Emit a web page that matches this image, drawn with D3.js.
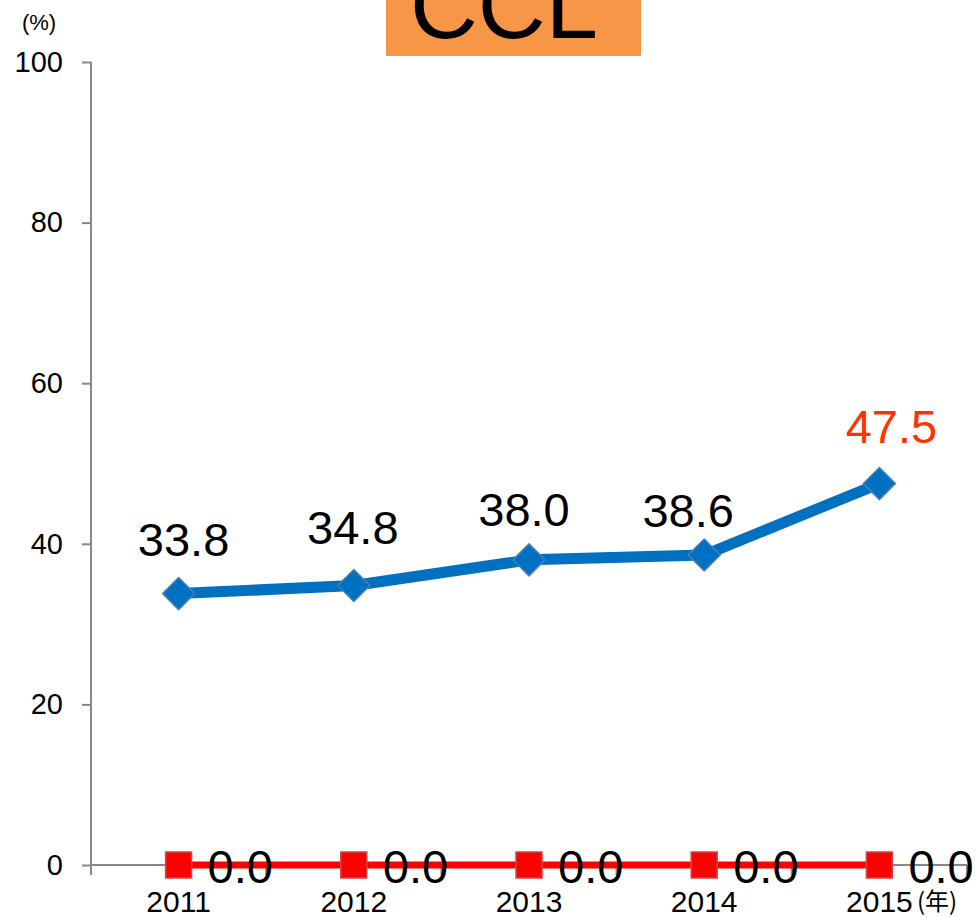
<!DOCTYPE html>
<html>
<head>
<meta charset="utf-8">
<script src="https://cdn.jsdelivr.net/npm/d3@7"></script>
<style>
  body { margin: 0; background: #fff; }
  text { font-family: "Liberation Sans", Arial, sans-serif; }
</style>
</head>
<body>
<svg width="976" height="917"></svg>
<script>
const years = ['2011', '2012', '2013', '2014', '2015']
const ccl = [33.8, 34.8, 38.0, 38.6, 47.5]
const other = [0.0, 0.0, 0.0, 0.0, 0.0]
const yTicks = [0, 20, 40, 60, 80, 100]

// hand-placed label nudges, as in the original
const labelDx = [5, -1, -5, -16, 12]
const labelDy = [-38, -42, -34, -28, -41]

const svg = d3.select('svg')
const plotLeft = 91
const plotRight = 967
const plotTop = 62
const plotBottom = 865

const x = d3.scaleBand().domain(years).range([plotLeft, plotRight])
const y = d3.scaleLinear().domain([0, 100]).range([plotBottom, plotTop])
const cx = d => x(d) + x.bandwidth() / 2

// title box
svg.append('rect')
  .attr('x', 386).attr('y', 0).attr('width', 255).attr('height', 56)
  .attr('fill', '#F79646')
svg.append('text')
  .attr('x', 504).attr('y', 38)
  .attr('text-anchor', 'middle')
  .attr('font-size', 94)
  .text('CCL')

svg.append('text')
  .attr('x', 39).attr('y', 30)
  .attr('text-anchor', 'middle')
  .attr('font-size', 22)
  .text('(%)')

// y axis
const yAxis = svg.append('g')
  .attr('transform', 'translate(' + plotLeft + ',0)')
  .call(d3.axisLeft(y).tickValues(yTicks).tickSize(9).tickPadding(19))
yAxis.select('.domain').remove()
yAxis.append('line')
  .attr('x1', 0).attr('x2', 0).attr('y1', plotTop).attr('y2', plotBottom + 10)
  .attr('stroke', '#888').attr('stroke-width', 2)
yAxis.selectAll('.tick line').attr('stroke', '#888').attr('stroke-width', 2)
yAxis.selectAll('.tick text')
  .attr('font-size', 29).attr('fill', '#000')
  .style('font-family', '"Liberation Sans", Arial, sans-serif')

// x axis
const xg = svg.append('g')
xg.append('line')
  .attr('x1', plotLeft).attr('x2', plotRight).attr('y1', plotBottom).attr('y2', plotBottom)
  .attr('stroke', '#888').attr('stroke-width', 2)
xg.selectAll('line.xt')
  .data(years)
  .enter()
  .append('line')
  .attr('class', 'xt')
  .attr('x1', d => x(d) + x.bandwidth()).attr('x2', d => x(d) + x.bandwidth())
  .attr('y1', plotBottom).attr('y2', plotBottom + 10)
  .attr('stroke', '#888').attr('stroke-width', 2)
xg.selectAll('text')
  .data(years)
  .enter()
  .append('text')
  .attr('x', d => cx(d))
  .attr('y', 912)
  .attr('text-anchor', 'middle')
  .attr('font-size', 30)
  .text(d => d)
svg.append('text')
  .attr('x', 917).attr('y', 910)
  .style('font-family', '"Noto Sans CJK JP", sans-serif')
  .attr('font-size', 24)
  .text('(年)')

const line = d3.line().x((d, i) => cx(years[i])).y(d => y(d))

// red series
svg.append('path')
  .datum(other)
  .attr('d', line)
  .attr('fill', 'none')
  .attr('stroke', '#FF0000')
  .attr('stroke-width', 7)
svg.selectAll('rect.sq')
  .data(other)
  .enter()
  .append('rect')
  .attr('class', 'sq')
  .attr('x', (d, i) => cx(years[i]) - 13)
  .attr('y', d => y(d) - 13)
  .attr('width', 26).attr('height', 26)
  .attr('fill', '#FF0000')
  .attr('stroke', '#D04848').attr('stroke-width', 1.5)
svg.selectAll('text.rl')
  .data(other)
  .enter()
  .append('text')
  .attr('class', 'rl')
  .attr('x', (d, i) => cx(years[i]) + 29)
  .attr('y', d => y(d) + 18)
  .attr('font-size', 47)
  .text(d => d.toFixed(1))

// blue series
svg.append('path')
  .datum(ccl)
  .attr('d', line)
  .attr('fill', 'none')
  .attr('stroke', '#0070C0')
  .attr('stroke-width', 11)
  .attr('stroke-linejoin', 'round')
svg.selectAll('path.dm')
  .data(ccl)
  .enter()
  .append('path')
  .attr('class', 'dm')
  .attr('transform', (d, i) => 'translate(' + cx(years[i]) + ',' + y(d) + ')')
  .attr('d', 'M0,-16L16,0L0,16L-16,0Z')
  .attr('fill', '#0070C0')
  .attr('stroke', '#4A7EBB').attr('stroke-width', 1.5)
svg.selectAll('text.bl')
  .data(ccl)
  .enter()
  .append('text')
  .attr('class', 'bl')
  .attr('x', (d, i) => cx(years[i]) + labelDx[i])
  .attr('y', (d, i) => y(d) + labelDy[i])
  .attr('text-anchor', 'middle')
  .attr('font-size', 47)
  .attr('fill', (d, i) => i === ccl.length - 1 ? '#FF3300' : '#000')
  .text(d => d.toFixed(1))
</script>
</body>
</html>
